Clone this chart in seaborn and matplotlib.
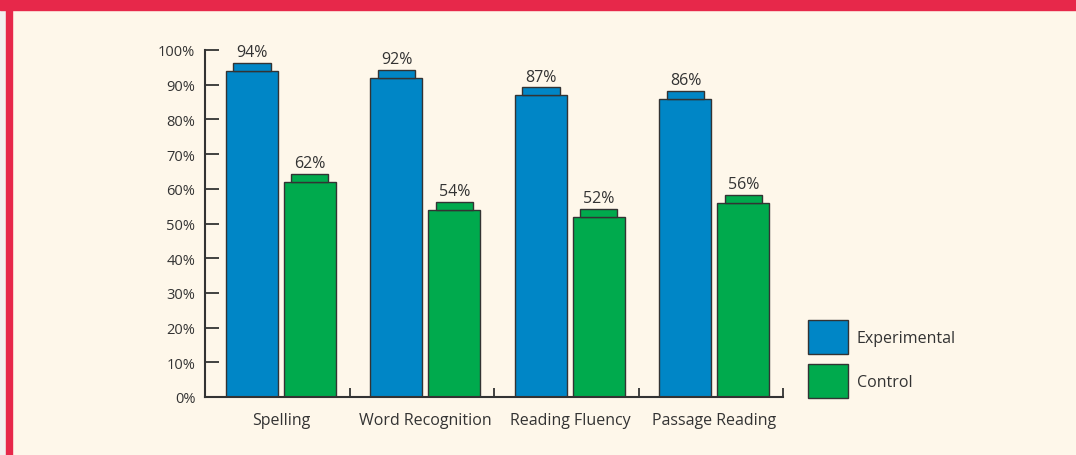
import pandas as pd
import matplotlib.pyplot as plt
from matplotlib.patches import Rectangle
from matplotlib.ticker import FixedLocator
import seaborn as sns

# --- Données ---
categories = ["Spelling", "Word Recognition", "Reading Fluency", "Passage Reading"]
experimental = [94, 92, 87, 86]
control = [62, 54, 52, 56]
groupes = ["Experimental", "Control"]
yticks = [0, 10, 20, 30, 40, 50, 60, 70, 80, 90, 100]

df = pd.DataFrame({
    "categorie": categories * 2,
    "groupe": [groupes[0]] * len(categories) + [groupes[1]] * len(categories),
    "valeur": experimental + control,
})

bg = "#fef7ea"
red = "#e7284a"
ink = "#333333"
palette = {"Experimental": "#0086c6", "Control": "#00aa4d"}

sns.set_style("white")
plt.rcParams["font.family"] = ["Open Sans", "DejaVu Sans"]

fig = plt.figure(figsize=(10.76, 4.56), dpi=100, facecolor=bg)
ax = fig.add_axes([205 / 1076, 58 / 456, 578 / 1076, 347 / 456])
ax.set_facecolor(bg)

sns.barplot(data=df, x="categorie", y="valeur", hue="groupe",
            hue_order=groupes, order=categories, palette=palette,
            width=0.8, gap=0.1, edgecolor=ink, linewidth=1,
            saturation=1, ax=ax)

# petit "couvercle" au-dessus de chaque barre + étiquette
for cont in list(ax.containers):
    xs = [p.get_x() + p.get_width() / 2 for p in cont.patches]
    hs = [p.get_height() for p in cont.patches]
    w = cont.patches[0].get_width()
    col = cont.patches[0].get_facecolor()
    cap = ax.bar(xs, [2.2] * len(xs), bottom=hs, width=w * 0.72,
                 color=col, edgecolor=ink, linewidth=1, label="_nolegend_")
    ax.bar_label(cap, labels=[f"{int(round(h))}%" for h in hs],
                 padding=2, fontsize=11.5, color=ink)

ax.set_xlim(-0.525, 3.475)
ax.set_ylim(0, 100)
ax.set_yticks(yticks)
ax.set_yticklabels([f"{t}%" for t in yticks])
ax.xaxis.set_minor_locator(FixedLocator([0.475, 1.475, 2.475, 3.475]))
ax.tick_params(axis="y", direction="in", length=10, width=1.3, color=ink,
               pad=7, labelsize=10.5, labelcolor=ink, left=True)
ax.tick_params(axis="x", which="major", length=0, pad=11, labelsize=11.5,
               labelcolor=ink)
ax.tick_params(axis="x", which="minor", direction="in", length=6.5,
               width=1.3, color=ink, bottom=True)
ax.set_xlabel("")
ax.set_ylabel("")
for s in ["top", "right"]:
    ax.spines[s].set_visible(False)
for s in ["left", "bottom"]:
    ax.spines[s].set_color(ink)
    ax.spines[s].set_linewidth(1.5)

# légende
handles, labels = ax.get_legend_handles_labels()
ax.get_legend().remove()
fig.legend(handles, labels, loc="upper left",
           bbox_to_anchor=(808 / 1076, 1 - 321 / 456), frameon=False,
           fontsize=11.5, handlelength=2.5, handleheight=2.9,
           labelspacing=0.63, handletextpad=0.56, borderpad=0,
           borderaxespad=0, labelcolor=ink)

# cadre rouge
fig.patches.append(Rectangle((0, 0), 6 / 1076, 1, transform=fig.transFigure,
                             color="#f2f0f0", zorder=0))
fig.patches.append(Rectangle((6 / 1076, 0), 6 / 1076, 1,
                             transform=fig.transFigure, color=red, zorder=0))
fig.patches.append(Rectangle((0, 1 - 11 / 456), 1, 11 / 456,
                             transform=fig.transFigure, color=red, zorder=0))

fig.savefig("out.png", dpi=100, facecolor=bg)
